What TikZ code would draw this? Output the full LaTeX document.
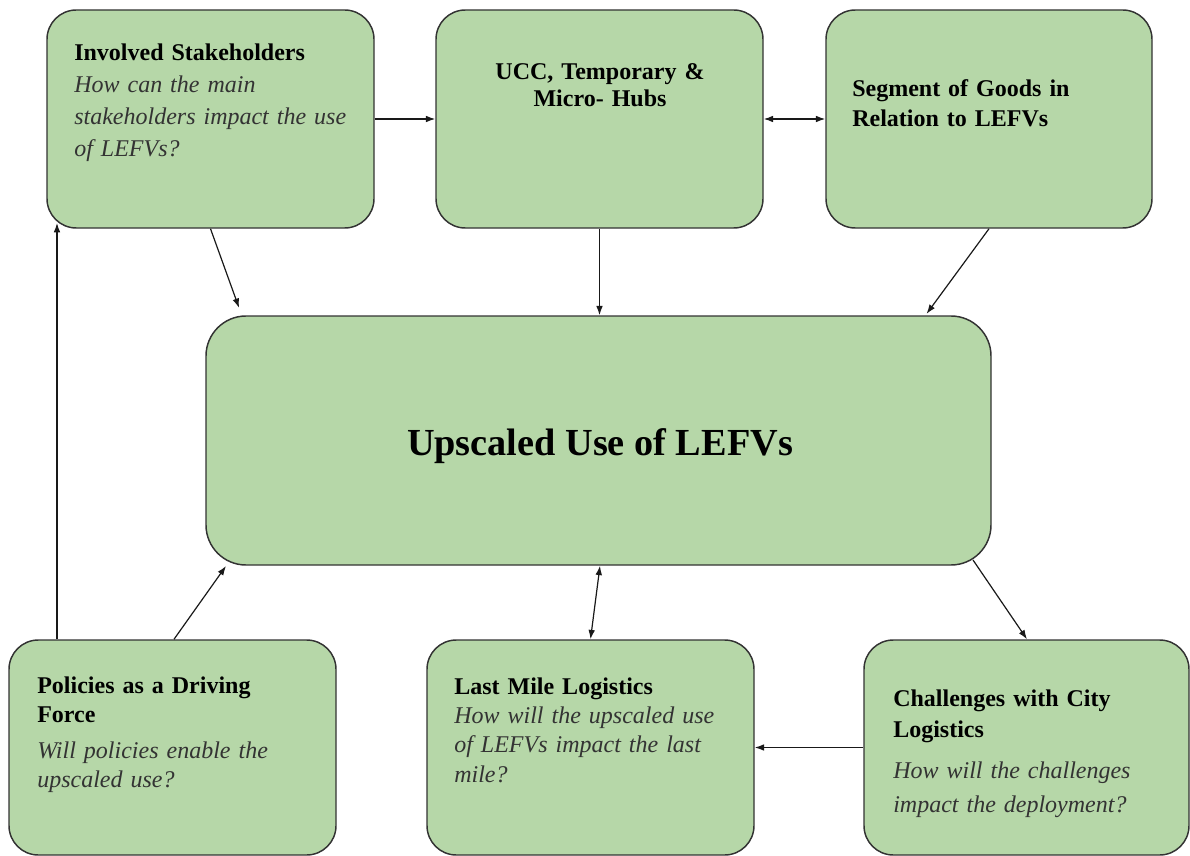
\documentclass[tikz,border=0pt]{standalone}
\usepackage{fontspec}
\setmainfont{Liberation Serif}
\usetikzlibrary{arrows.meta,fit}
\definecolor{boxgreen}{HTML}{B6D7A8}
\definecolor{qgray}{HTML}{333333}
\begin{document}
\begin{tikzpicture}[x=0.75pt,y=-0.75pt,
  box/.style={draw=black!80, line width=1.1pt, fill=boxgreen, rounded corners=22pt, inner sep=0pt},
  bigbox/.style={box, rounded corners=30pt},
  lbl/.style={anchor=base west, inner sep=0pt, text width=240pt, align=left, font=\fontsize{18}{24}\selectfont},
  arr/.style={draw=black!90, line width=0.9pt, -{Latex[length=7pt,width=5pt]}},
  darr/.style={draw=black!90, line width=0.9pt, {Latex[length=7pt,width=5pt]}-{Latex[length=7pt,width=5pt]}},
]
\useasboundingbox (0,0) rectangle (1190,856);

% boxes
\node[box, fit={(47,10) (374,228)}] (inv) {};
\node[box, fit={(436,10) (763,228)}] (ucc) {};
\node[box, fit={(826,10) (1152,228)}] (seg) {};
\node[bigbox, fit={(206,316) (991,565)}] (cen) {};
\node[box, fit={(9,640) (336,855)}] (pol) {};
\node[box, fit={(427,640) (754,855)}] (last) {};
\node[box, fit={(864,640) (1189,855)}] (chal) {};

% helper coordinates
\coordinate (e1) at (242,316);
\coordinate (e2) at (925,316);
\coordinate (x57) at (57,0);
\coordinate (e3) at (57,223);
\coordinate (x174) at (174,0);
\coordinate (e4) at (226,566);
\coordinate (x600) at (600,0);
\coordinate (s5) at (973,560);
\coordinate (x1027) at (1027,0);

% connectors
\draw[arr] (inv.east) -- (ucc.west);
\draw[darr] (ucc.east) -- (seg.west);
\draw[arr, shorten >=6.5pt] (inv.south) -- (e1);
\draw[arr] (ucc.south) -- (ucc.south |- cen.north);
\draw[arr, shorten >=2pt] (seg.south) -- (e2);
\draw[arr] (pol.north -| x57) -- (e3);
\draw[arr] (pol.north -| x174) -- (e4);
\draw[darr] (cen.south -| x600) -- (last.north);
\draw[arr] (s5) -- (chal.north -| x1027);
\draw[arr] (chal.west) -- (last.east);

% texts
\node[lbl] (tinv) at (74,61) {\textbf{Involved Stakeholders}\\{\itshape\color{qgray}How can the main\\stakeholders impact the use\\of LEFVs?}};
\node[lbl, anchor=base, align=center, font=\fontsize{18}{20.25}\selectfont] (tucc) at (600,80) {\textbf{UCC, Temporary \&}\\\textbf{Micro- Hubs}};
\node[lbl, font=\fontsize{18}{22.5}\selectfont] (tseg) at (852,97) {\textbf{Segment of Goods in}\\\textbf{Relation to LEFVs}};
\node[anchor=base, inner sep=0pt, font=\fontsize{28.7}{34}\selectfont\bfseries] (tcen) at (600,455) {Upscaled Use of LEFVs};
\node[lbl, font=\fontsize{18}{21.75}\selectfont] (tpol) at (37,693) {\textbf{Policies as a Driving}\\\textbf{Force}\\[5.25pt]{\itshape\color{qgray}Will policies enable the\\upscaled use?}};
\node[lbl, font=\fontsize{18}{22}\selectfont] (tlast) at (454,694) {\textbf{Last Mile Logistics}\\{\itshape\color{qgray}How will the upscaled use\\of LEFVs impact the last\\mile?}};
\node[lbl, font=\fontsize{18}{23.25}\selectfont] (tchal) at (893,706) {\textbf{Challenges with City}\\\textbf{Logistics}\\[7.5pt]{\itshape\color{qgray}How will the challenges\\[2.25pt]impact the deployment?}};
\end{tikzpicture}
\end{document}
